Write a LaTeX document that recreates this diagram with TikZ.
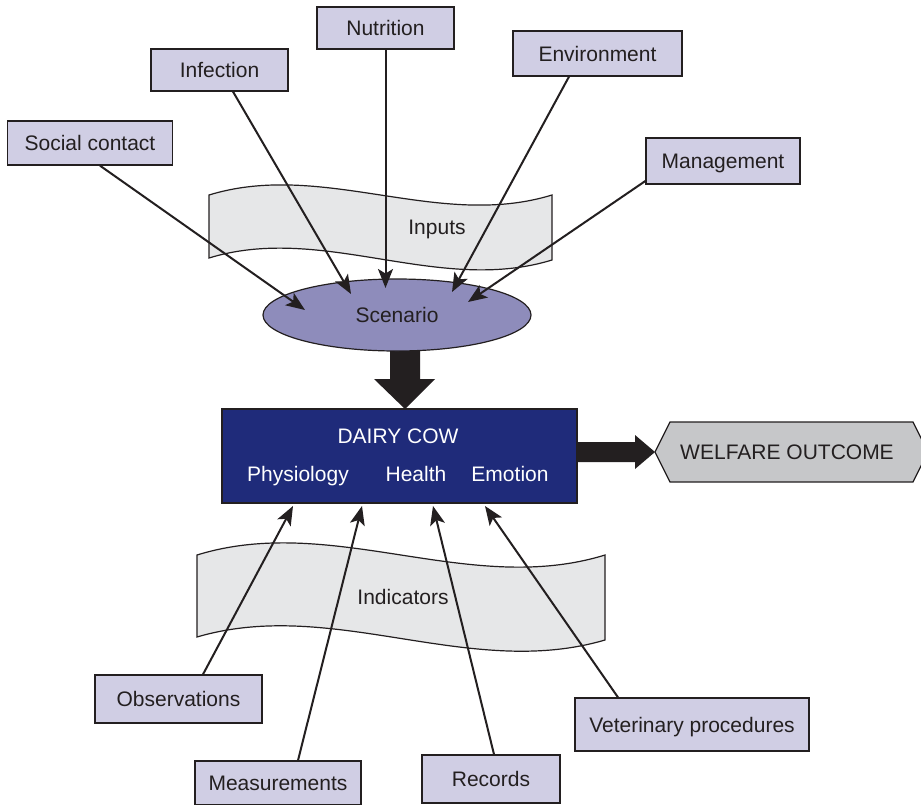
\documentclass[tikz,border=0pt]{standalone}
\usepackage{fontspec}
\setmainfont{Liberation Sans}
\usetikzlibrary{arrows.meta,calc,shapes.geometric}
\definecolor{ink}{HTML}{231F20}
\definecolor{boxfill}{HTML}{D0CEE4}
\definecolor{scenfill}{HTML}{8E8CBB}
\definecolor{cowfill}{HTML}{1F2B7A}
\definecolor{welfill}{HTML}{C6C7C9}
\definecolor{bannerfill}{HTML}{E6E7E8}
\begin{document}
\begin{tikzpicture}[x=1pt,y=-1pt,
  font=\fontsize{21}{25}\selectfont, text=ink,
  every node/.style={text height=15pt, text depth=0pt},
  inbox/.style={draw=ink, line width=1.3pt, fill=boxfill, inner sep=0pt},
  banner/.style={draw=ink, line width=1.2pt, fill=bannerfill},
  conn/.style={draw=ink, line width=2pt, -{Stealth[length=19pt,width=15pt,inset=4.5pt]}},
  thick arrow/.style={fill=ink}]
\useasboundingbox (0,0) rectangle (921,804);
\fill[white] (0,0) rectangle (921,804);
\clip (0,0) rectangle (921,804);

% banners
\draw[banner] (209,195) .. controls (323,160) and (438,230) .. (552,195)
  -- (552,260) .. controls (438,295) and (323,223) .. (209,258) -- cycle;
\node (inputs) at (437,227) {Inputs};
\draw[banner] (197,555) .. controls (333,513) and (469,597) .. (605,555)
  -- (605,640) .. controls (469,680) and (333,597) .. (197,637) -- cycle;
\node (indicators) at (403,597) {Indicators};

% thick arrows
\fill[thick arrow] (390,345) -- (420,345) -- (420,379) -- (435,379) -- (405,409)
  -- (374,379) -- (390,379) -- cycle;
\fill[thick arrow] (575,442) -- (635,442) -- (635,435) -- (655,452) -- (635,469)
  -- (635,462) -- (575,462) -- cycle;

% scenario
\node[draw=ink, line width=1.2pt, fill=scenfill, ellipse, minimum width=268pt,
  minimum height=72pt, inner sep=0pt] (scenario) at (397,315) {Scenario};

% dairy cow
\node[draw=ink, line width=1.2pt, fill=cowfill, minimum width=355pt,
  minimum height=94pt, inner sep=0pt] (cow) at (399.5,456) {};
\node[text=white] (dairy) at (398,436) {DAIRY COW};
\node[text=white] (physio) at (298,474) {Physiology};
\node[text=white] (health) at (416,474) {Health};
\node[text=white] (emotion) at (510,474) {Emotion};

% welfare outcome
\draw[draw=ink, line width=1.2pt, fill=welfill] (655,452) -- (670,422) -- (913,422)
  -- (928,452) -- (913,482) -- (670,482) -- cycle;
\node (welfare) at (787,452) {WELFARE OUTCOME};

% input boxes
\node[inbox, minimum width=165pt, minimum height=44pt] (social) at (90,143) {Social contact};
\node[inbox, minimum width=137pt, minimum height=42pt] (infection) at (219.5,70) {Infection};
\node[inbox, minimum width=137pt, minimum height=42pt] (nutrition) at (385.5,28) {Nutrition};
\node[inbox, minimum width=169pt, minimum height=45pt] (environment) at (597.5,53.5) {Environment};
\node[inbox, minimum width=154pt, minimum height=46pt] (management) at (723,161) {Management};

% indicator boxes
\node[inbox, minimum width=167pt, minimum height=48pt] (observations) at (178.5,699) {Observations};
\node[inbox, minimum width=166pt, minimum height=44pt] (measurements) at (278,783) {Measurements};
\node[inbox, minimum width=138pt, minimum height=48pt] (records) at (491,779) {Records};
\node[inbox, minimum width=234pt, minimum height=53pt] (veterinary) at (692,724.5) {Veterinary procedures};

% arrow tips
\coordinate (tsocial) at (305,310);
\coordinate (tinfection) at (351,294);
\coordinate (tnutrition) at (385.5,288);
\coordinate (tenvironment) at (452,292);
\coordinate (tmanagement) at (468,302);
\coordinate (tobs) at (293,506);
\coordinate (tmeas) at (362,506);
\coordinate (trec) at (433,506);
\coordinate (tvet) at (485,506);

% connectors
\draw[conn] ([xshift=10pt]social.south) -- (tsocial);
\draw[conn] ([xshift=13.5pt]infection.south) -- (tinfection);
\draw[conn] (nutrition.south) -- (tnutrition);
\draw[conn] ([xshift=-28.5pt]environment.south) -- (tenvironment);
\draw[conn] ([yshift=-20pt]management.west) -- (tmanagement);
\draw[conn] ([xshift=24.5pt]observations.north) -- (tobs);
\draw[conn] ([xshift=20pt]measurements.north) -- (tmeas);
\draw[conn] ([xshift=3pt]records.north) -- (trec);
\draw[conn] ([xshift=-74pt]veterinary.north) -- (tvet);
\end{tikzpicture}
\end{document}
